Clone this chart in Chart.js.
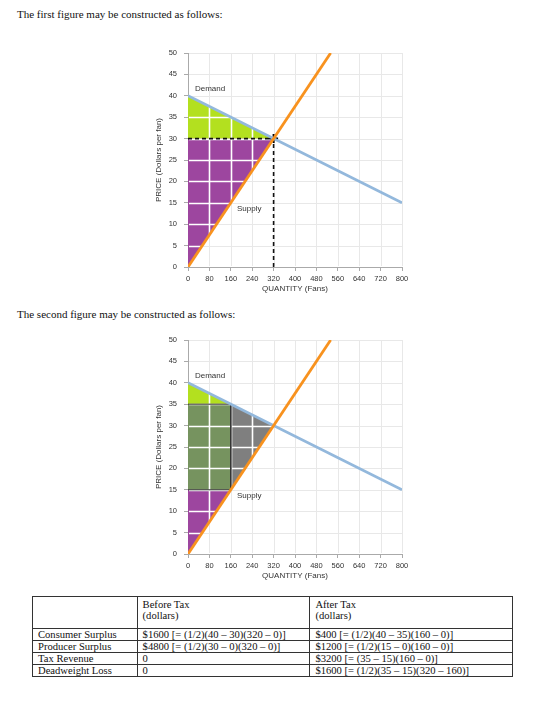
<!DOCTYPE html>
<html>
<head>
<meta charset="utf-8">
<script src="https://cdn.jsdelivr.net/npm/chart.js@4.4.0/dist/chart.umd.min.js"></script>
<style>
	body { margin: 0; background: #fff; }
	#page { position: relative; width: 560px; height: 725px; font-family: "Liberation Serif", "Times New Roman", serif; color: #111; }
	.para { position: absolute; left: 17px; font-size: 11px; line-height: 14px; white-space: nowrap; }
	.fig { position: absolute; left: 120px; }
	table { position: absolute; left: 32px; top: 596px; width: 481px; border-collapse: collapse; font-size: 10.6px; line-height: 11px; border: 1.5px solid #222; }
	td { border: 1px solid #333; padding: 0 0 0 5px; vertical-align: top; white-space: nowrap; height: 11px; }
	tr.head td { height: 29px; padding-top: 2px; }
</style>
</head>
<body>
<div id="page">
	<div class="para" style="top:7px">The first figure may be constructed as follows:</div>
	<canvas id="fig1" class="fig" style="top:40px" width="300" height="260"></canvas>
	<div class="para" style="top:307px">The second figure may be constructed as follows:</div>
	<canvas id="fig2" class="fig" style="top:327px" width="300" height="260"></canvas>
	<table id="tbl"></table>
</div>
<script>
// curves
const demandQ = [0, 800];
const demandP = [40, 15];
const supplyQ = [0, 533.3];
const supplyP = [0, 50];

// market outcomes
const eqQ = 320, eqP = 30;
const taxQ = 160, buyerP = 35, sellerP = 15;

// figure 1 areas
const cs1Q = [0, 320], cs1P = [40, 30];
const ps1Q = [0, 320], ps1P = [0, 30];
const guideQ = [0, 320, 320], guideP = [30, 30, 0];

// figure 2 areas
const cs2Q = [0, 160], cs2P = [40, 35];
const taxBaseQ = [0, 160], taxBaseP = [15, 15];
const dwlTopQ = [160, 320], dwlTopP = [35, 30];
const dwlLowQ = [160, 320], dwlLowP = [15, 30];
const ps2Q = [0, 160], ps2P = [0, 15];
const boxQ = [0, 160, 160, 0], boxP = [35, 35, 15, 15];

const tableHead = ['', 'Before Tax<br>(dollars)', 'After Tax<br>(dollars)'];
const tableRows = [
	['Consumer Surplus', '$1600 [= (1/2)(40 – 30)(320 – 0)]', '$400 [= (1/2)(40 – 35)(160 – 0)]'],
	['Producer Surplus', '$4800 [= (1/2)(30 – 0)(320 – 0)]', '$1200 [= (1/2)(15 – 0)(160 – 0)]'],
	['Tax Revenue', '0', '$3200 [= (35 – 15)(160 – 0)]'],
	['Deadweight Loss', '0', '$1600 [= (1/2)(35 – 15)(320 – 160)]']
];

const LIME = '#b3e01f', PURPLE = '#9d469f', TAXGREEN = '#76935f', DWLGREY = '#7f7f7f';
const BLUE = '#93b8dc', ORANGE = '#f8921e';
const sans = 'Arial, "Liberation Sans", sans-serif';

function pts(qs, ps) {
	return qs.map((q, i) => ({ x: q, y: ps[i] }));
}

function area(qs, ps, color, fill) {
	return { data: pts(qs, ps), backgroundColor: color, borderWidth: 0, pointRadius: 0, fill: fill };
}

function curve(qs, ps, color) {
	return { data: pts(qs, ps), borderColor: color, borderWidth: 2.8, pointRadius: 0, fill: false };
}

// white grid on top of the coloured areas, light grey grid everywhere else
const gridOverFills = {
	id: 'gridOverFills',
	beforeDatasetsDraw(chart) {
		const { ctx, chartArea: a, scales: { x, y } } = chart;
		const xs = x.ticks.filter(t => t.value > 0).map(t => Math.round(x.getPixelForValue(t.value)) + 0.5);
		const ys = y.ticks.filter(t => t.value > 0).map(t => Math.round(y.getPixelForValue(t.value)) + 0.5);
		const path = () => {
			ctx.beginPath();
			xs.forEach(px => { ctx.moveTo(px, a.top); ctx.lineTo(px, a.bottom); });
			ys.forEach(py => { ctx.moveTo(a.left, py); ctx.lineTo(a.right, py); });
		};
		ctx.save();
		ctx.beginPath();
		ctx.rect(a.left + 1, a.top - 1, a.width, a.height);
		ctx.clip();
		ctx.globalCompositeOperation = 'source-atop';
		ctx.strokeStyle = '#ffffff';
		ctx.lineWidth = 1.6;
		path();
		ctx.stroke();
		ctx.globalCompositeOperation = 'destination-over';
		ctx.strokeStyle = '#e8e8e8';
		ctx.lineWidth = 1;
		path();
		ctx.stroke();
		ctx.restore();
	}
};

const curveLabels = {
	id: 'curveLabels',
	afterDatasetsDraw(chart, args, opts) {
		const { ctx, scales: { x, y } } = chart;
		ctx.save();
		ctx.font = '8px ' + sans;
		ctx.fillStyle = '#333';
		ctx.textBaseline = 'middle';
		ctx.textAlign = 'left';
		opts.items.forEach(it => ctx.fillText(it.text, x.getPixelForValue(it.q), y.getPixelForValue(it.p)));
		ctx.restore();
	}
};

function makeChart(id, datasets) {
	const tickFont = { family: sans, size: 7.5 };
	return new Chart(document.getElementById(id), {
		type: 'line',
		data: { datasets: datasets },
		plugins: [gridOverFills, curveLabels],
		options: {
			responsive: false,
			animation: false,
			layout: { padding: { top: 13, right: 18, left: 0, bottom: 0 } },
			plugins: {
				legend: { display: false },
				tooltip: { enabled: false },
				filler: { drawTime: 'beforeDatasetsDraw' },
				curveLabels: {
					items: [
						{ text: 'Demand', q: 26, p: 41.6 },
						{ text: 'Supply', q: 183, p: 13.5 }
					]
				}
			},
			scales: {
				x: {
					type: 'linear', min: 0, max: 800,
					ticks: { stepSize: 80, font: tickFont, color: '#333', padding: 3, maxRotation: 0, autoSkip: false },
					grid: { drawOnChartArea: false, tickLength: 4, tickColor: '#aaa' },
					border: { color: '#aaa' },
					title: { display: true, text: 'QUANTITY (Fans)', font: { family: sans, size: 8 }, color: '#333', padding: { top: 0, bottom: 6.9 } },
					afterFit(s) { s.height = 33; s.paddingLeft = 0; s.paddingRight = 0; }
				},
				y: {
					type: 'linear', min: 0, max: 50,
					ticks: { stepSize: 5, font: tickFont, color: '#333', padding: 7 },
					grid: { drawOnChartArea: false, tickLength: 4, tickColor: '#aaa' },
					border: { color: '#aaa' },
					title: { display: true, text: 'PRICE (Dollars per fan)', font: { family: sans, size: 8 }, color: '#333', padding: { top: 33.7, bottom: 0 } },
					afterFit(s) { s.width = 68; s.paddingTop = 0; s.paddingBottom = 0; }
				}
			}
		}
	});
}

// figure 1: before tax
makeChart('fig1', [
	curve(supplyQ, supplyP, ORANGE),
	curve(demandQ, demandP, BLUE),
	{ data: [{ x: eqQ, y: eqP }], showLine: false, pointStyle: 'cross', pointRadius: 4.5, borderColor: '#000', borderWidth: 2 },
	{ data: pts(guideQ, guideP), borderColor: '#111', borderWidth: 1.6, borderDash: [4, 3], pointRadius: 0, fill: false },
	area(cs1Q, cs1P, LIME, { value: eqP }),
	area(ps1Q, ps1P, PURPLE, { value: eqP })
]);

// figure 2: after tax
makeChart('fig2', [
	curve(supplyQ, supplyP, ORANGE),
	curve(demandQ, demandP, BLUE),
	{ data: pts(boxQ, boxP), borderColor: '#333', borderWidth: 1, pointRadius: 0, fill: false },
	area(cs2Q, cs2P, LIME, { value: buyerP }),
	area(taxBaseQ, taxBaseP, TAXGREEN, { value: buyerP }),
	area(dwlTopQ, dwlTopP, DWLGREY, '+1'),
	area(dwlLowQ, dwlLowP, 'rgba(0,0,0,0)', false),
	area(ps2Q, ps2P, PURPLE, { value: sellerP })
]);

// table
let html = '<tr class="head">' + tableHead.map(h => '<td>' + h + '</td>').join('') + '</tr>';
tableRows.forEach(r => {
	html += '<tr>' + r.map(c => '<td>' + c + '</td>').join('') + '</tr>';
});
const tbl = document.getElementById('tbl');
tbl.innerHTML = html;
const cols = [103, 172, 206];
tbl.rows[0].querySelectorAll('td').forEach((td, i) => { td.style.width = cols[i] + 'px'; });
</script>
</body>
</html>
